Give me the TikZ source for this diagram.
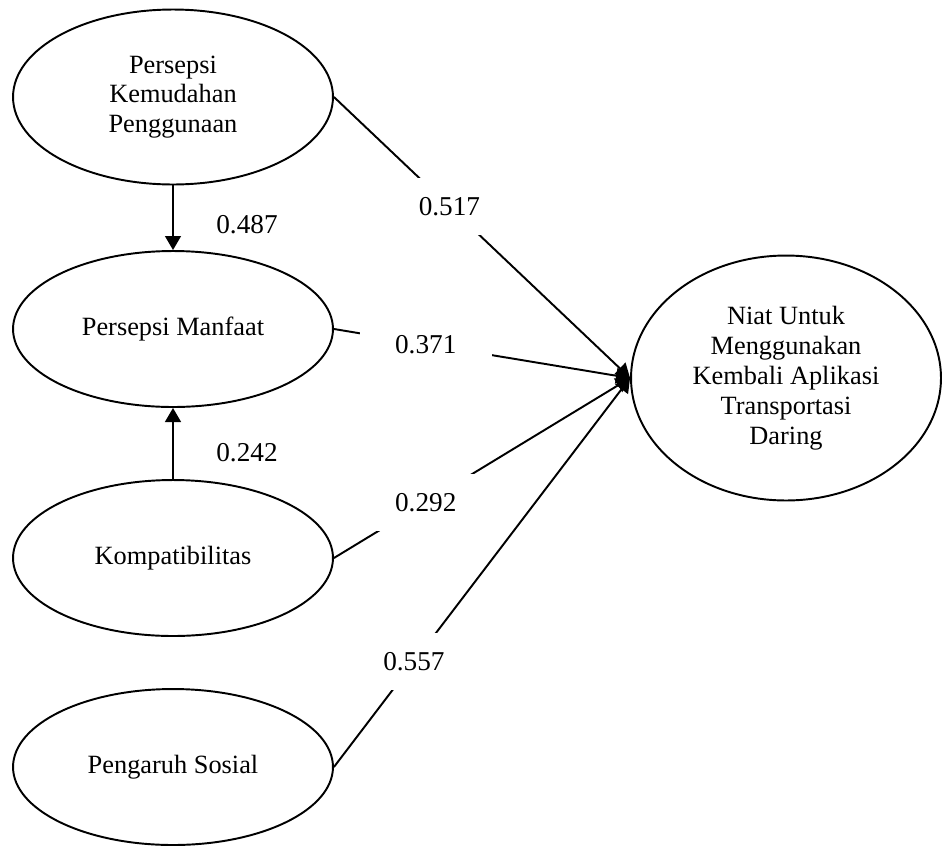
\documentclass[tikz,border=0pt]{standalone}
\usepackage{fontspec}
\setmainfont{Liberation Serif}
\usetikzlibrary{shapes.geometric}
\usetikzlibrary{arrows.meta}
\usetikzlibrary{positioning}

\begin{document}
\begin{tikzpicture}[x=0.02cm, y=-0.02cm]
  % one unit = one px of the sheet, y runs down
  \def\lwidth{1.1pt}
  \def\ewidth{6.4cm}
  \def\eheight{3.12cm}
  \tikzset{
    construct/.style={draw, ellipse, line width=\lwidth, inner sep=0pt,
      minimum width=\ewidth, minimum height=\eheight, align=center,
      font=\fontsize{15}{17}\selectfont},
    effect/.style={line width=\lwidth, -{Triangle[length=8pt, width=9pt]}},
    coef/.style={font=\fontsize{15.5}{17}\selectfont},
    coefbox/.style={coef, fill=white, inner sep=0pt,
      minimum width=2.64cm, minimum height=1.14cm},
  }
  \useasboundingbox (0,0) rectangle (942,849);

  % constructs
  \node[construct, minimum height=3.5cm] (pkp) at (173,97) {Persepsi\\Kemudahan\\Penggunaan};
  \node[construct] (pm) at (173,329) {Persepsi Manfaat};
  \node[construct] (komp) at (173,558) {Kompatibilitas};
  \node[construct] (ps) at (173,767) {Pengaruh Sosial};
  \node[construct, minimum width=6.2cm, minimum height=4.9cm] (niat) at (786,378)
    {Niat Untuk\\Menggunakan\\Kembali Aplikasi\\Transportasi\\Daring};

  % paths into Persepsi Manfaat
  \draw[effect] (pkp.south) -- (pm.north);
  \draw[effect] (komp.north) -- (pm.south);
  \node[coef] (c487) at (247,225) {0.487};
  \node[coef] (c242) at (247,453) {0.242};

  % paths into Niat
  \draw[effect] (pkp.east) -- node[coefbox, pos=0.39] (c517) {0.517} (niat.west);
  \draw[effect] (pm.east) -- node[coefbox, pos=0.31] (c371) {0.371} (niat.west);
  \draw[effect] (komp.east) -- node[coefbox, pos=0.31] (c292) {0.292} (niat.west);
  \draw[effect] (ps.east) -- node[coefbox, pos=0.27] (c557) {0.557} (niat.west);

\end{tikzpicture}
\end{document}
